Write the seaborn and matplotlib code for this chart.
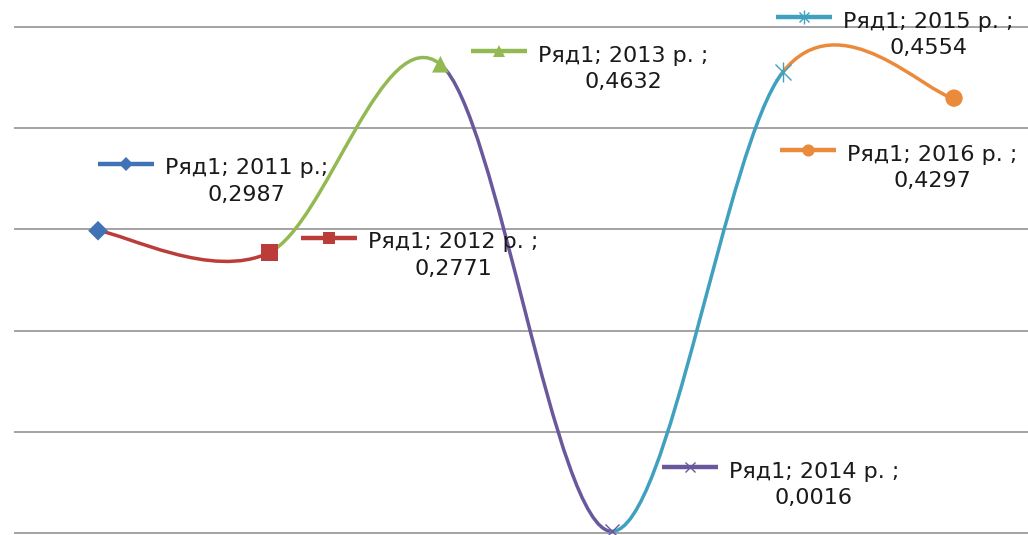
import numpy as np
import pandas as pd
import matplotlib
matplotlib.use("Agg")
import matplotlib.pyplot as plt
import seaborn as sns
from matplotlib.path import Path
from matplotlib.patches import PathPatch
from matplotlib.transforms import offset_copy

# ---- data -------------------------------------------------------------
series_name = "Ряд1"
years = [2011, 2012, 2013, 2014, 2015, 2016]
year_labels = ["2011 р.;", "2012 р. ;", "2013 р. ;", "2014 р. ;", "2015 р. ;", "2016 р. ;"]
values = [0.2987, 0.2771, 0.4632, 0.0016, 0.4554, 0.4297]
value_labels = ["0,2987", "0,2771", "0,4632", "0,0016", "0,4554", "0,4297"]

# ---- styling ----------------------------------------------------------
colors = ["#3F73B5", "#BA3D39", "#93B953", "#6A589C", "#3FA0C0", "#EA8A3B"]
marker_kinds = ["D", "s", "^", "x", "asterisk", "o"]
marker_sizes = [10, 12.5, 12, 10, 11, 12.5]
# label placement: offset (pixels) of the legend-key start from its point
key_offsets = [(0, 67), (32, 15), (31, 13), (50, 64), (-7, 55), (-174, -52)]
KEY_LEN = 56
# offset of the text anchor (baseline of the value line) from the key start
TEXT_SHIFT = (67, -37)

sns.set_style("white")
plt.rcParams["font.family"] = ["DejaVu Sans"]

W, H, DPI = 1028, 535, 100
fig = plt.figure(figsize=(W / DPI, H / DPI), dpi=DPI)
ax = fig.add_axes([14 / W, 0, 1 - 14 / W, 1])

step_px = 171.2
ax.set_xlim(years[0] - 84 / step_px, years[-1] + 74 / step_px)
ax.set_ylim(-2 / 1012, 0.5 + 27 / 1012)

# horizontal gridlines only
ax.set_yticks(np.arange(0, 0.51, 0.1))
ax.set_xticks([])
ax.grid(axis="y", color="#8a8a8a", linewidth=1.1)
ax.tick_params(left=False, labelleft=False, bottom=False, labelbottom=False)
for sp in ax.spines.values():
    sp.set_visible(False)
ax.set_axisbelow(True)

# ---- smoothed line, each segment coloured like the point it ends at ---
pts = np.column_stack([np.array(years, float), np.array(values, float)])
n = len(pts)
tangents = []
for i in range(n):
    prev_p = pts[max(i - 1, 0)]
    next_p = pts[min(i + 1, n - 1)]
    tangents.append((next_p - prev_p) / 6.0)
for i in range(n - 1):
    p0, p3 = pts[i], pts[i + 1]
    c1 = p0 + tangents[i]
    c2 = p3 - tangents[i + 1]
    path = Path([p0, c1, c2, p3], [Path.MOVETO, Path.CURVE4, Path.CURVE4, Path.CURVE4])
    ax.add_patch(PathPatch(path, facecolor="none", edgecolor=colors[i + 1],
                           linewidth=2.5, capstyle="round", joinstyle="round",
                           transform=ax.transData, clip_on=False, zorder=3))

# ---- markers ------------------------------------------------------------
df = pd.DataFrame({"year": years, "value": values, "label": year_labels,
                   "kind": marker_kinds, "size": marker_sizes})
filled = df[df["kind"].isin(["D", "s", "^", "o"])]
filled_labels = set(filled["label"])
sns.scatterplot(data=filled, x="year", y="value", hue="label", style="label",
                size="label",
                palette={l: colors[i] for i, l in enumerate(year_labels)},
                markers={l: marker_kinds[i] for i, l in enumerate(year_labels) if l in filled_labels},
                sizes={l: marker_sizes[i] ** 2 for i, l in enumerate(year_labels) if l in filled_labels},
                linewidth=0, legend=False, ax=ax, zorder=5, clip_on=False)


def draw_marker(axis, x, y, kind, color, ms, transform, z=5):
    if kind in ("x", "asterisk"):
        axis.plot([x], [y], marker="x", ms=ms, mew=1.0, color=color, transform=transform,
                  zorder=z, clip_on=False, linestyle="none")
        if kind == "asterisk":
            axis.plot([x], [y], marker="|", ms=ms * 1.3, mew=1.0, color=color,
                      transform=transform, zorder=z, clip_on=False, linestyle="none")
    else:
        axis.plot([x], [y], marker=kind, ms=ms, mew=0, color=color, transform=transform,
                  zorder=z, clip_on=False, linestyle="none")


for i, row in df.iterrows():
    if row["kind"] in ("x", "asterisk"):
        draw_marker(ax, row["year"], row["value"], row["kind"], colors[i], row["size"], ax.transData)

# ---- data labels with a legend key ---------------------------------------
for i in range(n):
    kx, ky = key_offsets[i]
    x, y = years[i], values[i]
    t0 = offset_copy(ax.transData, fig=fig, x=kx, y=ky, units="dots")
    t1 = offset_copy(ax.transData, fig=fig, x=kx + KEY_LEN, y=ky, units="dots")
    tm = offset_copy(ax.transData, fig=fig, x=kx + KEY_LEN / 2, y=ky, units="dots")
    p_start = t0.transform((x, y))
    p_end = t1.transform((x, y))
    fig.lines.append(plt.Line2D([p_start[0] / W, p_end[0] / W], [p_start[1] / H, p_end[1] / H],
                                transform=fig.transFigure, color=colors[i], linewidth=3.2,
                                solid_capstyle="butt", zorder=4))
    draw_marker(ax, x, y, marker_kinds[i], colors[i], marker_sizes[i] * 0.7, tm, z=6)
    tt = offset_copy(ax.transData, fig=fig, x=kx + TEXT_SHIFT[0], y=ky + TEXT_SHIFT[1], units="dots")
    ax.text(x, y, f"{series_name}; {year_labels[i]}\n{value_labels[i]}", transform=tt,
            ha="left", va="baseline", multialignment="center", fontsize=16,
            linespacing=1.4, color="#1a1a1a", zorder=7, clip_on=False)

fig.savefig("out.png", dpi=DPI)
